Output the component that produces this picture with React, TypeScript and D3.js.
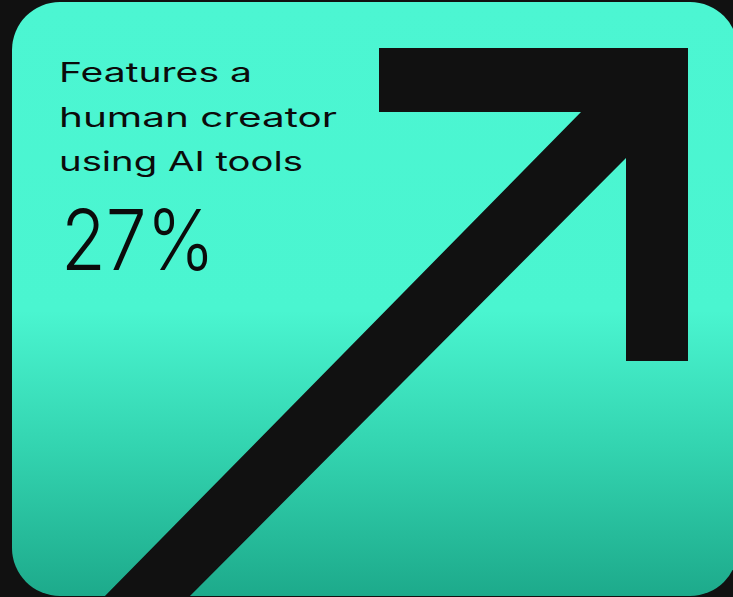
import React from "react";
import * as d3 from "d3";

const labelLines: string[] = ["Features a", "human creator", "using AI tools"];
const labelWidths: number[] = [193, 278, 244];
const values: number[] = [27];
const valueSuffix: string[] = ["%"];

const W = 733;
const H = 597;

export default function App() {
  const arrow = d3.path();
  const pts: [number, number][] = [
    [379, 48],
    [688, 48],
    [688, 361],
    [626, 361],
    [626, 158],
    [186, 600],
    [101, 600],
    [581, 112],
    [379, 112],
  ];
  arrow.moveTo(pts[0][0], pts[0][1]);
  pts.slice(1).forEach((p) => arrow.lineTo(p[0], p[1]));
  arrow.closePath();

  const lineY = d3.scaleLinear().domain([0, 1]).range([82, 126.5]);

  return (
    <div style={{ position: "absolute", left: 0, top: 0, width: W, height: H }}>
      <svg width={W} height={H} style={{ display: "block" }}>
        <defs>
          <linearGradient id="cardGrad" x1="0" y1="2" x2="0" y2="596" gradientUnits="userSpaceOnUse">
            <stop offset="0" stopColor="#4cf6d2" />
            <stop offset="0.52" stopColor="#4af5d0" />
            <stop offset="0.75" stopColor="#33d4b0" />
            <stop offset="1" stopColor="#1daa8b" />
          </linearGradient>
          <clipPath id="cardClip">
            <rect x={12} y={2} width={726} height={594} rx={48} ry={48} />
          </clipPath>
        </defs>
        <rect x={0} y={0} width={W} height={H} fill="#111111" />
        <rect x={12} y={2} width={726} height={594} rx={48} ry={48} fill="url(#cardGrad)" />
        <g clipPath="url(#cardClip)">
          <path d={arrow.toString()} fill="#111111" />
        </g>
        <g fontFamily="Inter, 'Noto Sans', sans-serif" fill="#0b0b0b">
          {labelLines.map((t, i) => (
            <text
              key={i}
              x={59}
              y={lineY(i)}
              fontSize={27}
              fontWeight={400}
              textLength={labelWidths[i]}
              lengthAdjust="spacingAndGlyphs"
            >
              {t}
            </text>
          ))}
          <text
            x={61}
            y={270}
            fontSize={84}
            fontWeight={300}
            textLength={154}
            lengthAdjust="spacingAndGlyphs"
          >
            {values[0]}
            {valueSuffix[0]}
          </text>
        </g>
      </svg>
    </div>
  );
}
